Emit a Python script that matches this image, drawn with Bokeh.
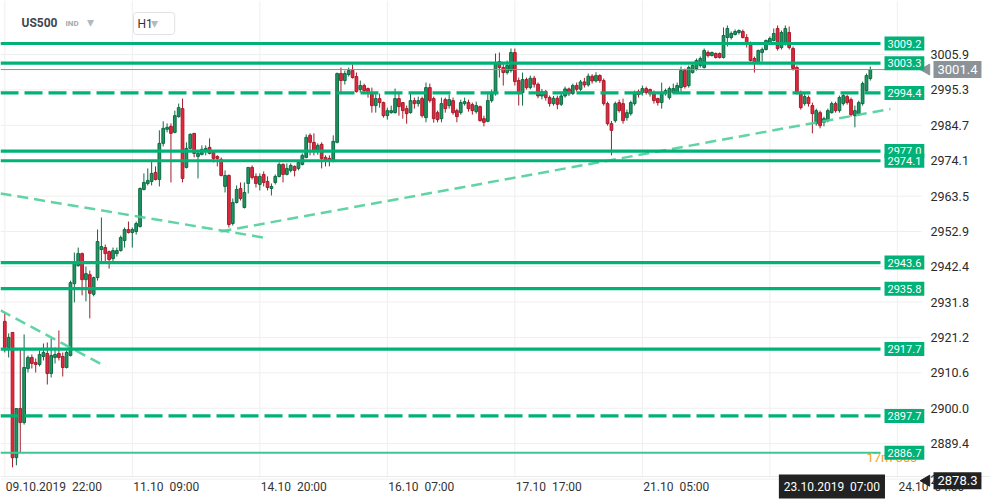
import math
from bokeh.plotting import figure
from bokeh.models import Range1d, Label, ColumnDataSource
from bokeh.core.properties import value
from bokeh.embed import file_html
from bokeh.resources import INLINE

# ---------------- data (US500, H1 candles) ----------------
opens = [2926.0, 2918.2, 2922.7, 2885.2, 2899.9, 2895.7, 2911.9, 2915.2, 2913.7, 2913.1,
         2915.5, 2916.4, 2910.4, 2915.2, 2916.4, 2915.5, 2912.2, 2915.8, 2937.3, 2942.7,
         2946.3, 2938.5, 2940.0, 2934.1, 2939.1, 2947.5, 2948.1, 2946.9, 2944.8, 2946.3,
         2947.2, 2950.2, 2953.5, 2952.6, 2952.9, 2954.4, 2965.5, 2967.3, 2967.9, 2970.6,
         2968.5, 2979.3, 2983.5, 2984.4, 2982.6, 2987.3, 2989.7, 2972.1, 2977.8, 2982.3,
         2975.4, 2976.0, 2976.9, 2978.1, 2976.6, 2975.4, 2974.5, 2966.4, 2969.7, 2955.3,
         2961.6, 2965.8, 2960.1, 2967.3, 2972.1, 2969.4, 2967.0, 2970.0, 2967.9, 2965.8,
         2967.6, 2969.4, 2973.0, 2970.0, 2971.2, 2972.4, 2971.8, 2973.0, 2975.1, 2981.7,
         2979.6, 2977.2, 2979.0, 2975.1, 2974.8, 2973.9, 2979.6, 3000.2, 2998.1, 2999.9,
         3001.1, 2999.3, 2995.4, 2996.6, 2995.7, 2994.2, 2990.6, 2992.7, 2991.5, 2987.6,
         2988.5, 2988.5, 2992.7, 2991.5, 2989.7, 2988.5, 2992.1, 2991.2, 2992.7, 2987.0,
         2996.0, 2992.7, 2988.5, 2986.7, 2992.4, 2990.6, 2992.1, 2989.1, 2988.5, 2991.2,
         2991.5, 2990.9, 2988.8, 2990.3, 2986.7, 2985.9, 2992.1, 2994.2, 3003.8, 3002.0,
         3000.5, 3001.1, 3006.5, 2998.1, 2994.5, 2998.4, 2996.0, 2998.8, 2997.0, 2993.5,
         2994.8, 2993.0, 2991.2, 2992.8, 2991.0, 2993.5, 2995.6, 2994.2, 2996.6, 2995.5,
         2997.7, 2996.8, 2999.4, 2998.0, 2999.6, 2998.1, 2991.2, 2985.2, 2986.1, 2991.5,
         2991.2, 2987.0, 2988.2, 2991.2, 2994.8, 2994.5, 2995.7, 2995.4, 2994.5, 2992.7,
         2991.5, 2994.2, 2993.0, 2994.5, 2994.5, 2996.0, 3001.1, 2996.6, 3000.5, 3001.7,
         3002.6, 3002.0, 3006.5, 3005.6, 3006.2, 3006.2, 3005.0, 3011.0, 3011.0, 3011.9,
         3012.5, 3012.8, 3011.0, 3009.2, 3004.7, 3003.5, 3006.5, 3007.4, 3009.5, 3010.1,
         3013.7, 3008.0, 3009.2, 3012.5, 3007.7, 3002.0, 2994.5, 2991.2, 2993.0, 2990.6,
         2985.2, 2988.5, 2985.6, 2986.1, 2988.5, 2991.2, 2989.1, 2991.2, 2993.3, 2992.4,
         2987.6, 2988.2, 2991.2, 2995.1, 2998.7]
highs = [2928.7, 2922.4, 2922.7, 2899.9, 2917.9, 2922.1, 2915.8, 2916.1, 2914.9, 2917.3,
         2919.4, 2919.7, 2920.9, 2918.2, 2923.3, 2916.7, 2917.3, 2938.2, 2946.6, 2948.1,
         2946.6, 2942.4, 2941.2, 2939.4, 2953.5, 2957.1, 2949.0, 2947.2, 2948.1, 2948.1,
         2951.7, 2954.1, 2955.9, 2954.1, 2955.9, 2966.1, 2970.3, 2971.8, 2973.9, 2972.4,
         2983.2, 2985.9, 2985.3, 2985.3, 2989.1, 2991.2, 2992.7, 2979.6, 2982.3, 2982.3,
         2977.2, 2978.7, 2978.7, 2980.8, 2977.2, 2975.7, 2975.1, 2971.2, 2970.0, 2962.8,
         2966.7, 2967.6, 2967.6, 2972.1, 2972.7, 2970.3, 2970.3, 2970.9, 2969.4, 2967.3,
         2970.0, 2973.6, 2973.3, 2973.3, 2973.3, 2972.7, 2974.2, 2976.3, 2982.0, 2982.3,
         2982.3, 2979.3, 2979.6, 2975.7, 2975.7, 2981.7, 3000.5, 3002.0, 3001.1, 3002.0,
         3002.9, 3000.5, 2998.1, 2997.2, 2996.0, 2996.0, 2994.2, 2994.2, 2991.8, 2990.0,
         2990.6, 2995.7, 2994.2, 2991.5, 2990.6, 2994.5, 2993.0, 2993.3, 2993.3, 2997.5,
         2997.2, 2993.3, 2989.1, 2993.0, 2993.0, 2993.9, 2993.0, 2989.7, 2992.4, 2993.0,
         2992.4, 2991.5, 2991.8, 2990.6, 2987.6, 2994.2, 2995.4, 3006.2, 3006.5, 3003.2,
         3004.1, 3007.7, 3007.7, 2999.0, 3000.5, 2999.0, 2999.6, 2999.5, 2997.5, 2995.6,
         2995.3, 2993.6, 2993.5, 2993.6, 2994.1, 2996.3, 2996.0, 2997.2, 2997.5, 2998.3,
         2998.9, 3000.2, 3000.0, 3000.6, 3000.0, 2998.7, 2991.8, 2986.0, 2991.8, 2992.4,
         2992.7, 2989.4, 2992.1, 2995.1, 2995.4, 2996.6, 2996.3, 2995.7, 2995.1, 2993.0,
         2997.5, 2995.7, 2996.3, 2997.2, 2997.5, 3002.3, 3001.7, 3002.6, 3003.2, 3004.7,
         3005.3, 3007.7, 3007.1, 3006.8, 3006.5, 3006.5, 3014.0, 3014.6, 3012.8, 3013.4,
         3013.4, 3013.4, 3012.0, 3009.8, 3005.3, 3007.4, 3008.0, 3010.4, 3011.3, 3013.7,
         3014.6, 3013.1, 3014.6, 3014.3, 3008.3, 3002.6, 2995.1, 2994.2, 2993.6, 2991.5,
         2989.7, 2989.1, 2987.3, 2989.7, 2991.8, 2991.8, 2993.6, 2994.2, 2993.9, 2993.0,
         2990.6, 2992.1, 2997.8, 3000.2, 3002.3]
lows = [2916.7, 2915.2, 2882.3, 2882.9, 2886.8, 2895.1, 2910.7, 2911.9, 2910.7, 2912.5,
        2914.3, 2907.1, 2909.2, 2913.4, 2914.3, 2909.5, 2911.9, 2915.5, 2931.7, 2942.4,
        2933.8, 2932.0, 2926.9, 2933.5, 2938.2, 2943.3, 2943.3, 2941.8, 2943.3, 2945.4,
        2946.9, 2948.1, 2952.3, 2948.1, 2952.0, 2954.1, 2965.2, 2966.7, 2966.7, 2968.2,
        2966.4, 2978.4, 2982.6, 2967.6, 2982.3, 2987.0, 2967.6, 2971.8, 2977.5, 2975.1,
        2968.8, 2975.7, 2975.7, 2976.0, 2973.6, 2972.4, 2969.4, 2964.6, 2954.1, 2954.7,
        2961.3, 2962.2, 2959.8, 2964.3, 2968.5, 2966.1, 2965.2, 2966.4, 2965.2, 2963.7,
        2967.0, 2969.1, 2967.6, 2969.7, 2970.6, 2969.4, 2971.2, 2972.7, 2974.8, 2975.7,
        2975.7, 2975.9, 2971.8, 2972.4, 2972.4, 2973.6, 2979.3, 2994.5, 2996.9, 2999.3,
        2998.7, 2994.5, 2994.5, 2994.5, 2993.0, 2988.5, 2988.5, 2990.0, 2987.0, 2986.4,
        2988.2, 2988.2, 2987.6, 2986.7, 2985.2, 2988.2, 2989.7, 2990.3, 2987.0, 2985.6,
        2991.5, 2985.5, 2985.6, 2985.6, 2988.5, 2989.7, 2987.9, 2985.6, 2987.9, 2990.6,
        2988.8, 2987.9, 2988.2, 2985.8, 2984.4, 2985.6, 2991.5, 2993.6, 2999.0, 2996.6,
        2999.9, 3000.5, 2996.6, 2990.6, 2990.6, 2995.4, 2995.5, 2996.0, 2992.8, 2992.5,
        2992.1, 2990.3, 2990.6, 2989.5, 2990.5, 2993.0, 2993.5, 2993.8, 2994.8, 2995.0,
        2996.0, 2996.3, 2997.2, 2997.5, 2997.4, 2990.6, 2984.6, 2975.7, 2985.5, 2988.5,
        2985.2, 2986.1, 2987.6, 2990.6, 2993.0, 2993.6, 2993.9, 2993.3, 2991.2, 2990.6,
        2989.7, 2993.6, 2992.4, 2994.2, 2994.2, 2994.8, 2995.7, 2996.0, 3000.2, 3001.1,
        3002.0, 3001.7, 3005.0, 3005.3, 3004.7, 3004.7, 3004.7, 3008.3, 3010.4, 3011.6,
        3011.9, 3010.7, 3008.0, 3003.8, 3000.5, 3003.2, 3003.8, 3007.1, 3009.2, 3009.8,
        3007.1, 3007.4, 3008.6, 3007.4, 3001.1, 2993.9, 2989.4, 2990.6, 2990.3, 2982.3,
        2984.6, 2983.8, 2984.4, 2985.6, 2988.2, 2988.5, 2988.5, 2990.6, 2990.9, 2987.3,
        2984.1, 2987.6, 2990.6, 2994.5, 2998.1]
closes = [2918.2, 2921.2, 2885.2, 2899.9, 2895.7, 2912.2, 2915.2, 2913.4, 2913.1, 2916.1,
          2916.7, 2910.4, 2915.8, 2916.1, 2915.2, 2912.2, 2916.7, 2937.6, 2943.6, 2946.3,
          2938.5, 2940.3, 2934.4, 2939.1, 2949.9, 2948.4, 2946.3, 2944.5, 2947.2, 2947.2,
          2951.1, 2953.5, 2952.6, 2953.5, 2955.3, 2965.8, 2967.6, 2968.2, 2970.3, 2968.5,
          2979.3, 2983.8, 2984.1, 2982.3, 2987.6, 2990.0, 2968.8, 2977.8, 2982.0, 2976.3,
          2976.3, 2977.5, 2977.8, 2976.3, 2974.8, 2974.8, 2969.7, 2969.7, 2955.0, 2961.6,
          2965.5, 2962.8, 2964.6, 2972.1, 2969.1, 2967.3, 2969.4, 2967.6, 2966.1, 2966.4,
          2969.4, 2973.0, 2970.0, 2971.8, 2972.7, 2971.2, 2973.6, 2975.7, 2981.1, 2979.6,
          2977.2, 2978.7, 2974.8, 2974.2, 2974.2, 2979.9, 3000.2, 2998.1, 3000.2, 3001.1,
          2999.0, 2994.8, 2996.6, 2995.1, 2994.5, 2990.6, 2992.7, 2991.5, 2987.6, 2989.1,
          2989.1, 2992.7, 2990.3, 2989.1, 2988.2, 2992.1, 2991.2, 2992.1, 2987.6, 2996.0,
          2992.1, 2986.7, 2986.4, 2991.2, 2989.7, 2992.4, 2988.5, 2987.3, 2991.5, 2991.8,
          2989.7, 2989.1, 2990.6, 2986.1, 2985.6, 2992.1, 2994.2, 3003.5, 3002.0, 3000.5,
          3002.6, 3006.5, 2997.8, 2994.5, 2998.4, 2996.0, 2998.8, 2997.0, 2993.5, 2994.8,
          2993.0, 2991.2, 2992.8, 2991.0, 2993.5, 2995.6, 2994.2, 2996.6, 2995.5, 2997.7,
          2996.8, 2999.4, 2998.0, 2999.6, 2998.1, 2991.2, 2985.2, 2983.2, 2991.2, 2989.1,
          2986.1, 2988.5, 2991.5, 2994.5, 2993.9, 2995.7, 2994.5, 2994.2, 2992.1, 2991.5,
          2994.5, 2995.1, 2995.7, 2995.7, 2996.6, 3001.1, 2996.3, 3002.0, 3002.6, 3004.1,
          3004.7, 3007.1, 3005.6, 3006.5, 3005.0, 3005.0, 3011.6, 3013.7, 3012.2, 3012.8,
          3013.1, 3011.0, 3009.0, 3004.1, 3003.5, 3007.1, 3007.4, 3010.1, 3010.7, 3012.2,
          3007.7, 3012.5, 3013.7, 3008.0, 3001.7, 2994.5, 2990.0, 2993.3, 2991.2, 2988.2,
          2989.1, 2984.6, 2986.7, 2989.1, 2991.2, 2989.1, 2993.0, 2993.6, 2991.5, 2987.9,
          2989.1, 2991.5, 2997.2, 2999.6, 3001.4]

tick_idx = [0, 33, 66, 99, 132, 165, 231]
tick_text = ["09.10.2019 \u00a022:00", "11.10 \u00a009:00", "14.10 \u00a020:00",
             "16.10 \u00a007:00", "17.10 \u00a017:00", "21.10 \u00a005:00", "24.10 \u00a004:00"]
price_ticks = [3005.9, 2995.3, 2984.7, 2974.1, 2963.5, 2952.9, 2942.4, 2931.8,
               2921.2, 2910.6, 2900.0, 2889.4, 2878.8]

solid_levels = [3009.2, 3003.3, 2977.0, 2974.1, 2943.6, 2935.8, 2917.7]
thin_levels = [2886.7]
dashed_levels = [2994.4, 2897.7]

trend_x0 = [-1.1, 55.8, -1.1]
trend_y0 = [2964.3, 2952.9, 2929.3]
trend_x1 = [67.0, 229.2, 26.1]
trend_y1 = [2951.1, 2989.6, 2912.5]

last_price = 3001.4
cursor_price = 2878.3
cursor_idx = 198
cursor_time = "23.10.2019 \u00a007:00"
countdown = "17m 30s"
symbol = "US500"
symbol_kind = "IND"
timeframe = "H1"

# ---------------- layout (page pixels -> data) ----------------
FONT = "Roboto"
W, H = 990, 502
BAR_PX, BAR0_PX = 3.864, 4.3          # candle spacing / first candle position
PX_PER_PT, REF_PX, REF_PT = 3.34, 43.0, 3009.2


def px_to_x(px):
    return (px - BAR0_PX) / BAR_PX


def py_to_y(py):
    return REF_PT - (py - REF_PX) / PX_PER_PT


X0, X1 = px_to_x(0), px_to_x(W)
Y0, Y1 = py_to_y(H), py_to_y(0)
PLOT_R = px_to_x(921)      # right edge of the price area
PLOT_B = py_to_y(477)      # bottom edge of the price area

GREEN = "#00b277"
TREND = "#4fcf9b"
UP_FILL, UP_LINE = "#1e9562", "#0e6a43"
DN_FILL, DN_LINE = "#e1283c", "#a51c2c"
GRID = "#efefef"

p = figure(width=W, height=H, x_range=Range1d(X0, X1), y_range=Range1d(Y0, Y1),
           output_backend="svg", toolbar_location=None,
           x_axis_location=None, y_axis_location=None,
           min_border_left=0, min_border_right=0, min_border_top=0, min_border_bottom=0)
p.outline_line_color = None
p.background_fill_color = "white"
p.border_fill_color = "white"
p.xgrid.visible = False
p.ygrid.visible = False

# grid
p.segment(x0=[X0] * len(price_ticks), y0=price_ticks, x1=[PLOT_R] * len(price_ticks),
          y1=price_ticks, line_color=GRID, line_width=1)
p.segment(x0=tick_idx + [cursor_idx], y0=[Y1] * (len(tick_idx) + 1),
          x1=tick_idx + [cursor_idx], y1=[PLOT_B] * (len(tick_idx) + 1),
          line_color=GRID, line_width=1)
p.segment(x0=[X0], y0=[py_to_y(476)], x1=[X1], y1=[py_to_y(476)], line_color="#e9e9e9",
          line_width=1)

# ---------------- candles ----------------
idx = list(range(len(opens)))
up = [c >= o for o, c in zip(opens, closes)]
src = ColumnDataSource(dict(
    x=idx, o=opens, h=highs, l=lows, c=closes,
    top=[max(o, c) for o, c in zip(opens, closes)],
    bot=[min(o, c) for o, c in zip(opens, closes)],
    fill=[UP_FILL if u else DN_FILL for u in up],
    line=[UP_LINE if u else DN_LINE for u in up],
))
p.segment(x0="x", y0="l", x1="x", y1="h", line_color="line", line_width=1, source=src)
p.vbar(x="x", width=0.7, top="top", bottom="bot", fill_color="fill", line_color="line",
       line_width=1, source=src)

# ---------------- drawn lines ----------------
line_end = px_to_x(880)
p.segment(x0=trend_x0, y0=trend_y0, x1=trend_x1, y1=trend_y1, line_color=TREND,
          line_width=2.5, line_dash="11 6", line_alpha=0.9)
n = len(solid_levels)
p.segment(x0=[X0] * n, y0=solid_levels, x1=[line_end] * n, y1=solid_levels,
          line_color=GREEN, line_width=3.2)
p.segment(x0=[X0] * len(thin_levels), y0=thin_levels, x1=[line_end] * len(thin_levels),
          y1=thin_levels, line_color="#3cc794", line_width=2)
p.segment(x0=[X0] * len(dashed_levels), y0=dashed_levels, x1=[line_end] * len(dashed_levels),
          y1=dashed_levels, line_color=GREEN, line_width=3.2, line_dash="18 6")
p.segment(x0=[X0], y0=[last_price], x1=[PLOT_R], y1=[last_price], line_color="#8c9196",
          line_width=1)

# ---------------- axis texts ----------------
p.text(x=[px_to_x(930)] * len(price_ticks), y=price_ticks,
       text=[f"{t:.1f}" for t in price_ticks], text_font=value(FONT),
       text_font_size="12.5px", text_color="#2b2b2b", text_baseline="middle",
       text_align="left")
p.text(x=tick_idx, y=[py_to_y(486)] * len(tick_idx), text=tick_text, x_offset=1,
       text_font=value(FONT), text_font_size="12px", text_color="#333333",
       text_baseline="middle", text_align="left")

# countdown (behind the level tag)
p.add_layout(Label(x=px_to_x(866), y=py_to_y(457), text=countdown, text_color="#f5a01a",
                   text_font=FONT, text_font_size="13px", text_baseline="middle"))

# level tags
for lv in solid_levels + thin_levels + dashed_levels:
    p.add_layout(Label(x=px_to_x(884), y=lv, text=f"{lv:.1f}", text_color="white",
                       text_font=FONT, text_font_size="11px", text_baseline="middle",
                       background_fill_color=GREEN, padding=3))

# price tags on the right axis (with little arrow)
for price, col in [(last_price, "#8b9298"), (cursor_price, "#222222")]:
    p.scatter(x=[px_to_x(926)], y=[price], marker="triangle", size=11, angle=math.pi / 2,
              fill_color=col, line_color=col)
    p.add_layout(Label(x=px_to_x(933), y=price, text=f"{price:.1f}", text_color="white",
                       text_font=FONT, text_font_size="13px", text_baseline="middle",
                       background_fill_color=col, padding=4))

# cursor time tag
p.add_layout(Label(x=cursor_idx, x_offset=9, y=py_to_y(486), text=cursor_time,
                   text_color="white", text_font=FONT, text_font_size="12px",
                   text_baseline="middle", background_fill_color="#222222", padding=5))

# header
p.add_layout(Label(x=px_to_x(21), y=py_to_y(22), text=symbol, text_color="#3d4852",
                   text_font=FONT, text_font_size="12px", text_font_style="bold",
                   text_baseline="middle"))
p.add_layout(Label(x=px_to_x(65), y=py_to_y(23), text=symbol_kind, text_color="#a3a9ae",
                   text_font=FONT, text_font_size="8px", text_font_style="bold",
                   text_baseline="middle"))
p.add_layout(Label(x=px_to_x(86), y=py_to_y(21), text="\u25BE", text_color="#b4b9bd",
                   text_font=FONT, text_font_size="14px", text_baseline="middle"))
p.add_layout(Label(x=px_to_x(133), y=py_to_y(23), text=timeframe + "      ", text_color="#333333",
                   text_font=FONT, text_font_size="12px", text_baseline="middle",
                   background_fill_color="white", border_line_color="#dfe2e5",
                   border_radius=3, padding=4))
p.add_layout(Label(x=px_to_x(150), y=py_to_y(22), text="\u25BE", text_color="#b4b9bd",
                   text_font=FONT, text_font_size="14px", text_baseline="middle"))

open("out.html", "w").write(file_html(p, INLINE))
